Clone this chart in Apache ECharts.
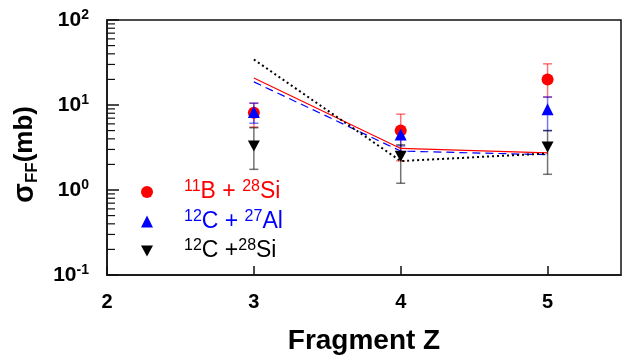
<!DOCTYPE html>
<html>
<head>
<meta charset="utf-8">
<script src="https://cdn.jsdelivr.net/npm/echarts@6/dist/echarts.min.js"></script>
<style>
  html, body { margin: 0; padding: 0; background: #fff; }
  #chart { width: 623px; height: 360px; }
</style>
</head>
<body>
<div id="chart"></div>
<script>
// fragment charge
const zValues = [3, 4, 5];

// 11B + 28Si
const bSiVal = [8.1, 5.0, 19.9];
const bSiLo = [5.5, 2.2, 12.4];
const bSiHi = [10.5, 7.8, 30.5];
// 12C + 27Al
const cAlVal = [8.3, 4.5, 8.9];
const cAlLo = [6.1, 3.3, 5.0];
const cAlHi = [10.5, 5.4, 12.4];
// 12C + 28Si
const cSiVal = [3.3, 2.5, 3.2];
const cSiLo = [1.75, 1.2, 1.53];
const cSiHi = [5.4, 3.4, 5.0];

// calculation curves
const bSiCalc = [20.8, 3.08, 2.74];
const cAlCalc = [18.7, 2.87, 2.6];
const cSiCalc = [34.3, 2.19, 2.69];

// minor ticks of the log axis
const minorTickValues = [];
[0.1, 1, 10].forEach(d => {
    for (let m = 2; m <= 9; m++) minorTickValues.push(+(m * d).toPrecision(3));
});

const FONT = '"Liberation Sans", Arial, sans-serif';
const downTri = 'path://M0,0 L10,0 L5,9 Z';

function pts(vals) {
    return zValues.map((z, i) => [z, vals[i]]);
}
function errs(lo, hi) {
    return zValues.map((z, i) => [z, lo[i], hi[i]]);
}

function errorSeries(lo, hi, color) {
    return {
        type: 'custom',
        silent: true,
        data: errs(lo, hi),
        renderItem: function (params, api) {
            const top = api.coord([api.value(0), api.value(2)]);
            const bot = api.coord([api.value(0), api.value(1)]);
            const w = 4.5;
            const st = {stroke: color, lineWidth: 1.5};
            return {
                type: 'group',
                children: [
                    {type: 'line', shape: {x1: top[0], y1: top[1], x2: bot[0], y2: bot[1]}, style: st},
                    {type: 'line', shape: {x1: top[0] - w, y1: top[1], x2: top[0] + w, y2: top[1]}, style: st},
                    {type: 'line', shape: {x1: bot[0] - w, y1: bot[1], x2: bot[0] + w, y2: bot[1]}, style: st}
                ]
            };
        },
        z: 2
    };
}

const chart = echarts.init(document.getElementById('chart'));

const option = {
    animation: false,
    textStyle: {fontFamily: FONT},
    grid: {
        left: 107, right: 2, top: 20, bottom: 83,
        show: true, borderColor: '#111', borderWidth: 1.5
    },
    xAxis: {
        type: 'value',
        min: 2, max: 5.5, interval: 1,
        name: 'Fragment Z',
        nameLocation: 'middle',
        nameGap: 52,
        nameTextStyle: {fontSize: 28, fontWeight: 'bold', color: '#000', fontFamily: FONT},
        splitLine: {show: false},
        axisLine: {lineStyle: {color: '#111', width: 1.5}},
        axisTick: {inside: true, length: 9, lineStyle: {color: '#111', width: 1.5}},
        axisLabel: {
            fontSize: 20, fontWeight: 'bold', color: '#000', margin: 17,
            showMaxLabel: false,
            formatter: v => (Number.isInteger(v) ? String(v) : '')
        }
    },
    yAxis: {
        type: 'log',
        logBase: 10,
        min: 0.1, max: 100,
        name: '{g|σ}{sub|FF}{s|(mb)}{e|}',
        nameLocation: 'middle',
        nameRotate: 90,
        nameGap: 66,
        nameTextStyle: {
            rich: {
                g: {fontSize: 29, fontWeight: 'bold', color: '#000', fontFamily: FONT, lineHeight: 32},
                s: {fontSize: 26, fontWeight: 'bold', color: '#000', fontFamily: FONT, lineHeight: 32},
                sub: {fontSize: 17, fontWeight: 'bold', color: '#000', fontFamily: FONT, verticalAlign: 'bottom', lineHeight: 32, padding: [10, 0, 0, 0]},
                e: {width: 14}
            }
        },
        splitLine: {show: false},
        axisLine: {lineStyle: {color: '#111', width: 1.5}},
        axisTick: {inside: true, length: 12, lineStyle: {color: '#111', width: 1.5}},
        minorTick: {show: false},
        axisLabel: {
            margin: 18,
            formatter: v => '{b|10}{e|' + Math.round(Math.log10(v)) + '}',
            rich: {
                b: {fontSize: 21, fontWeight: 'bold', color: '#000', fontFamily: FONT, lineHeight: 24},
                e: {fontSize: 14, fontWeight: 'bold', color: '#000', fontFamily: FONT, verticalAlign: 'top', lineHeight: 24, padding: [0, 0, 8, 0]}
            }
        }
    },
    legend: {
        orient: 'vertical',
        left: 136,
        top: 174,
        itemWidth: 12,
        itemHeight: 12,
        itemGap: 5,
        selectedMode: false,
        data: [
            {name: 'bsi', icon: 'circle'},
            {name: 'cal', icon: 'triangle'},
            {name: 'csi', icon: downTri}
        ],
        formatter: function (name) {
            if (name === 'bsi') return '{p|}{rs|11}{r|B + }{rs|28}{r|Si}';
            if (name === 'cal') return '{p|}{bs|12}{b|C + }{bs|27}{b|Al}';
            return '{p|}{ks|12}{k|C +}{ks|28}{k|Si}';
        },
        textStyle: {
            rich: {
                p: {width: 26},
                r: {fontSize: 23, color: '#ff0000', fontFamily: FONT, lineHeight: 26},
                rs: {fontSize: 16, color: '#ff0000', fontFamily: FONT, verticalAlign: 'top', lineHeight: 26},
                b: {fontSize: 23, color: '#0000ff', fontFamily: FONT, lineHeight: 26},
                bs: {fontSize: 16, color: '#0000ff', fontFamily: FONT, verticalAlign: 'top', lineHeight: 26},
                k: {fontSize: 23, color: '#000', fontFamily: FONT, lineHeight: 26},
                ks: {fontSize: 16, color: '#000', fontFamily: FONT, verticalAlign: 'top', lineHeight: 26}
            }
        }
    },
    series: [
        // minor ticks on the log axis
        {
            type: 'custom',
            silent: true,
            data: minorTickValues.map(v => [2, v]),
            renderItem: function (params, api) {
                const p = api.coord([api.value(0), api.value(1)]);
                return {
                    type: 'line',
                    shape: {x1: p[0], y1: p[1], x2: p[0] + 8, y2: p[1]},
                    style: {stroke: '#111', lineWidth: 1.2}
                };
            },
            z: 1
        },
        {
            name: 'bsi-calc', type: 'line', data: pts(bSiCalc),
            symbol: 'none', silent: true,
            lineStyle: {color: '#ff0000', width: 1.2, type: 'solid'}, z: 3
        },
        {
            name: 'cal-calc', type: 'line', data: pts(cAlCalc),
            symbol: 'none', silent: true,
            lineStyle: {color: '#0000ff', width: 1.2, type: [8, 5]}, z: 3
        },
        {
            name: 'csi-calc', type: 'line', data: pts(cSiCalc),
            symbol: 'none', silent: true,
            lineStyle: {color: '#000', width: 2, type: [2, 3]}, z: 3
        },
        errorSeries(bSiLo, bSiHi, 'rgba(255,0,0,0.55)'),
        errorSeries(cAlLo, cAlHi, 'rgba(0,0,255,0.55)'),
        errorSeries(cSiLo, cSiHi, 'rgba(0,0,0,0.55)'),
        {
            name: 'bsi', type: 'scatter', data: pts(bSiVal),
            symbol: 'circle', symbolSize: 12,
            itemStyle: {color: '#ff0000', opacity: 1}, z: 4
        },
        {
            name: 'cal', type: 'scatter', data: pts(cAlVal),
            symbol: 'triangle', symbolSize: 12,
            itemStyle: {color: '#0000ff', opacity: 1}, z: 5
        },
        {
            name: 'csi', type: 'scatter', data: pts(cSiVal),
            symbol: downTri, symbolSize: [12, 11],
            itemStyle: {color: '#000', opacity: 1}, z: 6
        }
    ]
};

chart.setOption(option);
</script>
</body>
</html>
